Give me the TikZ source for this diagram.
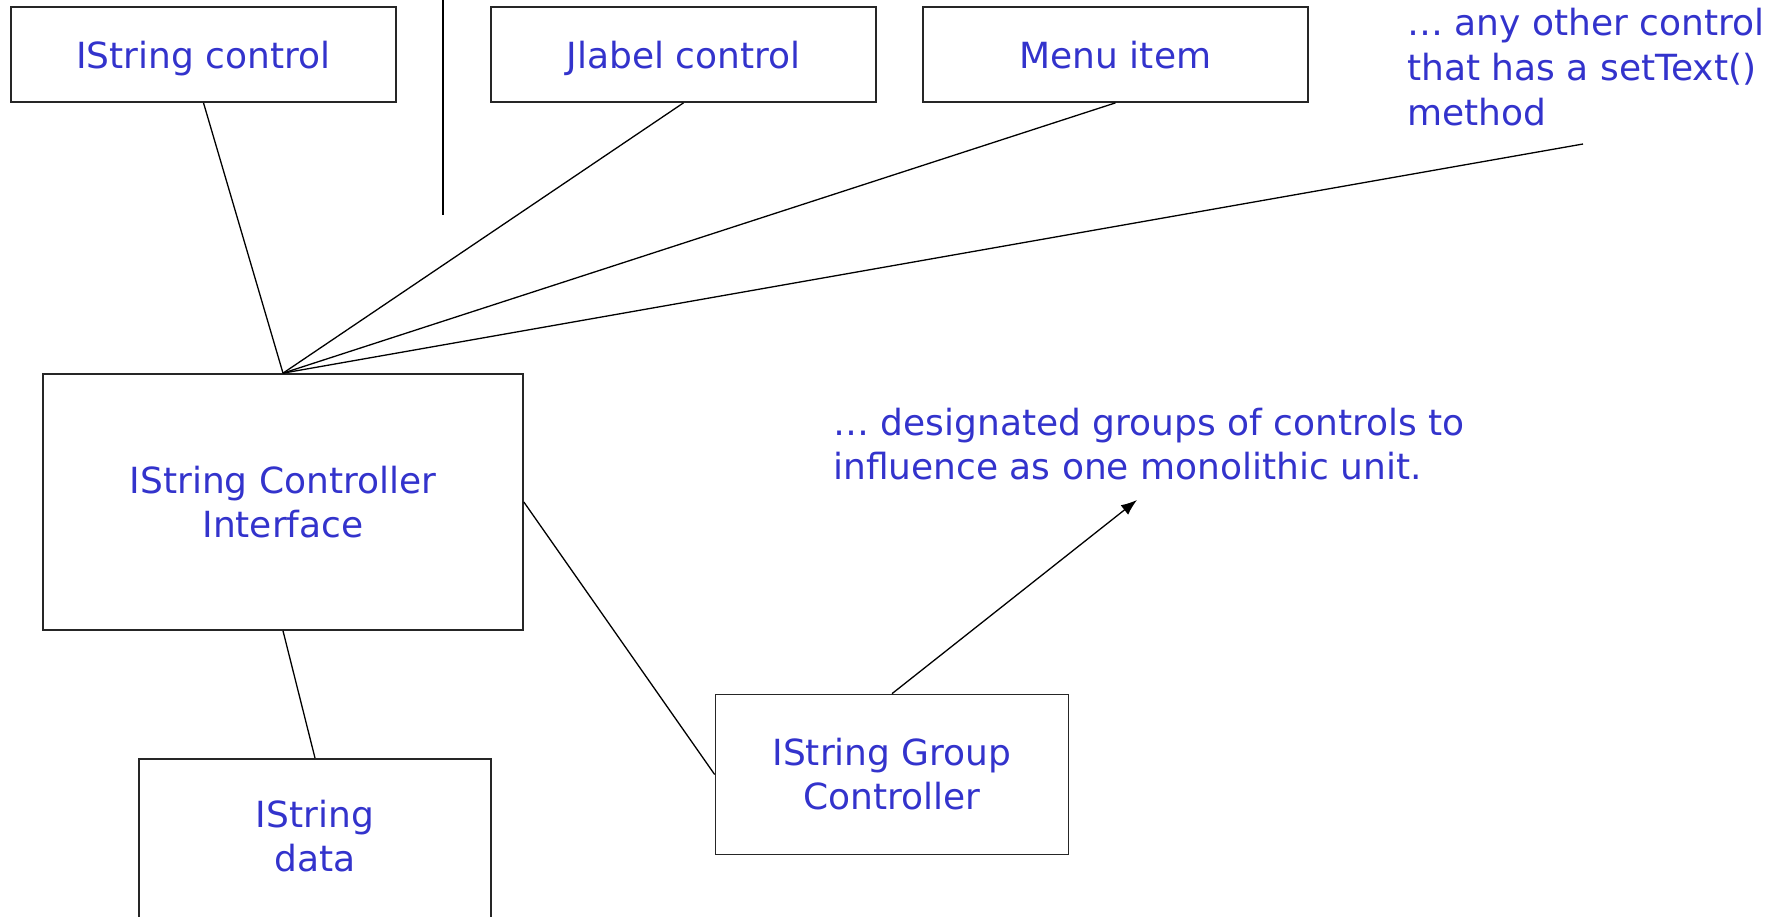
\documentclass[tikz,border=0pt]{standalone}
\usepackage{fontspec}
\setmainfont{DejaVu Sans}
\usetikzlibrary{arrows.meta}
\definecolor{txtblue}{RGB}{51,51,204}
\begin{document}
\begin{tikzpicture}[x=1pt,y=-1pt,
  txt/.style={font=\fontsize{36}{44}\selectfont, text=txtblue},
  box/.style={txt, draw=black!85, line width=1.7pt, inner sep=0pt, align=center},
  topbox/.style={box, minimum width=385pt, minimum height=95pt, text height=27pt, text depth=0pt},
  conn/.style={draw=black, line width=1.3pt},
  note/.style={txt, inner sep=0pt, align=left, anchor=base west}]
\clip (0,0) rectangle (1783,916);
% top row
\node[topbox] (isc) at (203.5,54.5) {IString control};
\node[topbox] (jlc) at (683.5,54.5) {Jlabel control};
\node[topbox] (menu) at (1115.5,54.5) {Menu item};
\node[note, font=\fontsize{36}{45}\selectfont] (othernote) at (1407,125) {… any other control\\that has a setText()\\method};
% middle
\node[box, minimum width=480pt, minimum height=256pt] (ctl) at (283,502) {IString Controller\\Interface};
\node[note] (groupnote) at (833,479) {… designated groups of controls to\\influence as one monolithic unit.};
% bottom
\node[box, minimum width=353pt, minimum height=160pt] (grp) at (892,774.5) {IString Group\\Controller};
\node[box, minimum width=351.5pt, minimum height=240pt, anchor=north] (data) at (315,758) {};
\node[txt, align=center, inner sep=0pt] (datalbl) at (315,836) {IString\\data};
% free ends
\coordinate (vtop) at (443,0);
\coordinate (vbot) at (443,215);
\coordinate (otherend) at (1583,144);
\coordinate (arrtip) at (1137,500);
% connectors
\draw[conn] (vtop) -- (vbot);
\draw[conn] (isc.south) -- (ctl.north);
\draw[conn] (jlc.south) -- (ctl.north);
\draw[conn] (menu.south) -- (ctl.north);
\draw[conn] (otherend) -- (ctl.north);
\draw[conn] (ctl.east) -- (grp.west);
\draw[conn] (ctl.south) -- (data.north);
\draw[conn, -{Latex[length=16pt,width=12pt]}] (grp.north) -- (arrtip);
\end{tikzpicture}
\end{document}
